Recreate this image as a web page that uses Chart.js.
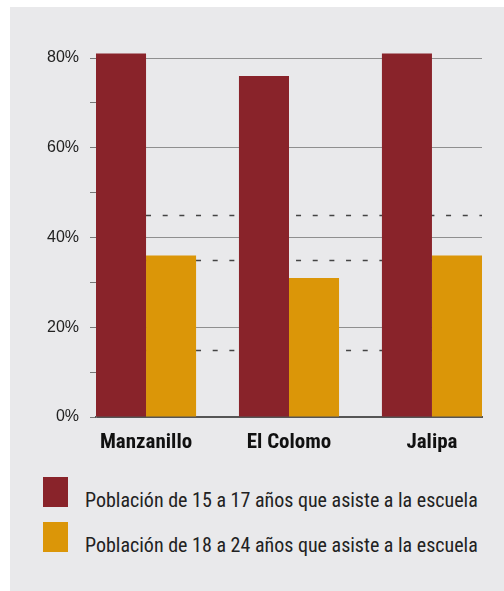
<!DOCTYPE html>
<html>
<head>
<meta charset="utf-8">
<script src="https://cdn.jsdelivr.net/npm/chart.js@4/dist/chart.umd.min.js"></script>
<style>
  body { margin: 0; background: #fff; }
  #panel { position: absolute; left: 10px; top: 7px; width: 494px; height: 584px; background: #e9e9eb; }
  #chartBox { position: absolute; left: 0; top: 0; width: 494px; height: 460px; }
  #legend { position: absolute; left: 33px; top: 470px; font-family: 'Roboto Condensed', sans-serif; font-size: 20px; color: #222; white-space: nowrap; }
  .item { display: flex; align-items: baseline; height: 45px; }
  .box { display: inline-block; width: 25px; height: 30px; margin-right: 17px; }
</style>
</head>
<body>
<div id="panel">
  <div id="chartBox"><canvas id="chart"></canvas></div>
  <div id="legend"></div>
</div>
<script>
const categories = ['Manzanillo', 'El Colomo', 'Jalipa'];
const seriesNames = [
  'Población de 15 a 17 años que asiste a la escuela',
  'Población de 18 a 24 años que asiste a la escuela'
];
const teens = [81, 76, 81];
const youngAdults = [36, 31, 36];
const refLines = [15, 35, 45];
const colors = ['#89232a', '#db9608'];

// dashed reference lines behind the bars
const refLinePlugin = {
  id: 'refLines',
  beforeDatasetsDraw(chart) {
    const { ctx, chartArea, scales } = chart;
    ctx.save();
    ctx.strokeStyle = '#444';
    ctx.lineWidth = 1.3;
    ctx.setLineDash([5, 11.67]);
    refLines.forEach(v => {
      const y = Math.round(scales.y.getPixelForValue(v)) + 0.5;
      ctx.beginPath();
      ctx.moveTo(chartArea.left, y);
      ctx.lineTo(chartArea.right, y);
      ctx.stroke();
    });
    ctx.restore();
  }
};

const toPoints = arr => arr.map((v, i) => ({ x: i, y: v }));

new Chart(document.getElementById('chart'), {
  type: 'bar',
  data: {
    datasets: [
      { label: seriesNames[0], data: toPoints(teens), backgroundColor: colors[0] },
      { label: seriesNames[1], data: toPoints(youngAdults), backgroundColor: colors[1] }
    ]
  },
  options: {
    responsive: true,
    maintainAspectRatio: false,
    animation: false,
    clip: false,
    categoryPercentage: 0.7,
    barPercentage: 1,
    layout: { padding: { top: 51, right: 22, left: 0, bottom: 0 } },
    plugins: { legend: { display: false }, tooltip: { enabled: false } },
    scales: {
      x: {
        type: 'linear',
        offset: false,
        min: -0.35,
        max: 2.35,
        afterBuildTicks: s => { s.ticks = categories.map((_, i) => ({ value: i })); },
        afterFit: s => { s.height = 50; },
        grid: { display: false, offset: false },
        border: { color: '#555', width: 2 },
        ticks: {
          padding: 5,
          maxRotation: 0,
          autoSkip: false,
          color: '#111',
          font: { family: "'Roboto Condensed', sans-serif", size: 21, weight: 'bold' },
          callback: v => categories[v]
        }
      },
      y: {
        min: 0,
        max: 80,
        afterFit: s => { s.width = 86; },
        ticks: {
          stepSize: 10,
          padding: 11,
          color: '#222',
          font: { family: "'Liberation Sans', sans-serif", size: 16 },
          callback: v => (v % 20 === 0 ? v + '%' : '')
        },
        grid: {
          color: c => (c.tick && c.tick.value % 20 === 0 && c.tick.value > 0 ? '#8f8f8f' : 'rgba(0,0,0,0)'),
          tickColor: '#777',
          tickLength: 6,
          lineWidth: 1
        },
        border: { color: '#777', width: 1 }
      }
    }
  },
  plugins: [refLinePlugin]
});

// legend
document.getElementById('legend').innerHTML = seriesNames.map((name, i) => `
  <div class="item"><span class="box" style="background:${colors[i]}"></span><span>${name}</span></div>
`).join('');
</script>
</body>
</html>
